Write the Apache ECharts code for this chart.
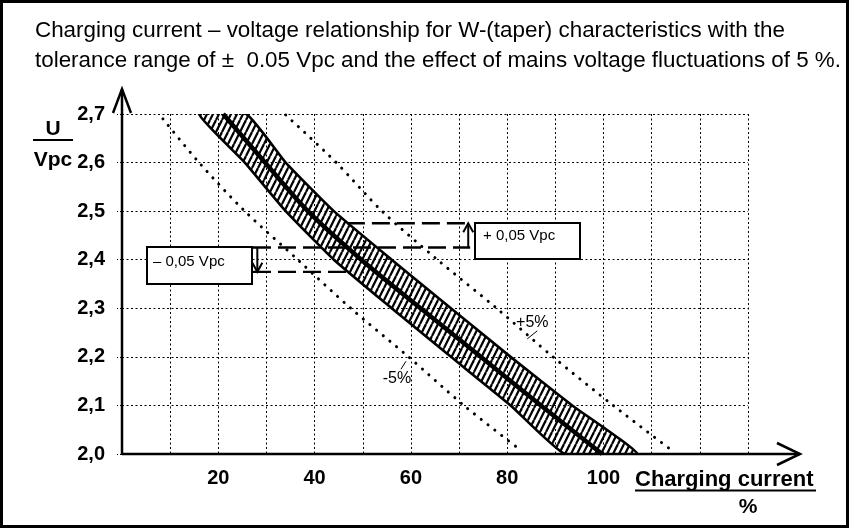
<!DOCTYPE html>
<html><head><meta charset="utf-8">
<script src="https://cdn.jsdelivr.net/npm/echarts@6/dist/echarts.min.js"></script>
<style>html,body{margin:0;padding:0;background:#fff}#c{width:849px;height:528px}</style>
</head><body><div id="c"></div>
<script>
// ---------- data ----------
const titleLines = [
  'Charging current \u2013 voltage relationship for W-(taper) characteristics with the',
  'tolerance range of \u00b1  0.05 Vpc and the effect of mains voltage fluctuations of 5 %.'
];
const xTickLabels = [20, 40, 60, 80, 100];
const yAxisNameTop = 'U';
const yAxisNameBottom = 'Vpc';
const xAxisName = 'Charging current';
const xAxisUnit = '%';

const voltages        = [2.7, 2.6, 2.5, 2.4, 2.3, 2.2, 2.1, 2.0];
const centerCurrent   = [21, 29.7, 38.6, 49.7, 62, 74.5, 87, 99.7];
const bandLeftCurrent = [16, 25.5, 34, 44, 56, 68.3, 80.7, 92];
const bandRightCurrent= [25.8, 34, 44, 56, 68.3, 80.7, 93.5, 107];

const minus5Voltages  = [2.69, 2.6, 2.5, 2.4, 2.3, 2.2, 2.1, 2.01];
const minus5Current   = [8.5, 16, 25.5, 36.5, 47.5, 59.5, 71, 82.5];
const plus5Voltages   = [2.698, 2.6, 2.5, 2.4, 2.3, 2.2, 2.1, 2.005];
const plus5Current    = [34, 44.5, 54, 65.5, 77.8, 89.5, 102, 114.5];

const tolMid = 2.425, tolUp = 2.475, tolLow = 2.375;
const tolMidRange = [27.2, 72.3];
const tolUpRange  = [46.7, 72.3];
const tolLowRange = [27.2, 48];
const minusArrowX = 28.1, plusArrowX = 71.9;
const minusLabel = '\u2013 0,05 Vpc';
const plusLabel  = '+ 0,05 Vpc';
const plus5Label = '+5%', minus5Label = '-5%';

// ---------- chart ----------
function hatch() {
  const c = document.createElement('canvas'); c.width = 6; c.height = 12;
  const g = c.getContext('2d'); g.strokeStyle = '#000'; g.lineWidth = 2.2;
  for (const dx of [-6, 0, 6]) { g.beginPath(); g.moveTo(dx, 12); g.lineTo(dx + 6, 0); g.stroke(); }
  return c;
}
const pattern = { image: hatch(), repeat: 'repeat' };
const zip = (xs, ys) => xs.map((x, i) => [x, ys[i]]);
const FONT = '"Liberation Sans", Arial, Helvetica, sans-serif';
const dotted = { color: '#000', width: 3, type: [0.1, 8.5], cap: 'round' };
const dashed = { color: '#000', width: 2.4, type: [18, 7] };

const chart = echarts.init(document.getElementById('c'), null, { renderer: 'canvas' });
chart.setOption({
  animation: false,
  backgroundColor: '#fff',
  grid: { left: 122, top: 114, width: 626, height: 340 },
  xAxis: {
    type: 'value', min: 0, max: 130, interval: 10,
    axisLine: { show: false }, axisTick: { show: false },
    axisLabel: { margin: 14, color: '#000', fontFamily: FONT, fontSize: 20, fontWeight: 'bold',
      formatter: v => xTickLabels.includes(v) ? String(v) : '' },
    splitLine: { show: true, lineStyle: { color: '#000', width: 1, type: [2, 2.5] } }
  },
  yAxis: {
    type: 'value', min: 2.0, max: 2.7, interval: 0.1,
    axisLine: { show: false },
    axisTick: { show: true, length: 5, lineStyle: { color: '#000', width: 1, type: [2, 2] } },
    axisLabel: { margin: 17, color: '#000', fontFamily: FONT, fontSize: 20, fontWeight: 'bold',
      formatter: v => v.toFixed(1).replace('.', ',') },
    splitLine: { show: true, lineStyle: { color: '#000', width: 1, type: [2, 2.5] } }
  },
  series: [
    { type: 'custom', clip: true, z: 3, data: [[0, 2]],
      renderItem: (params, api) => {
        const pts = [];
        voltages.forEach((v, i) => pts.push(api.coord([bandLeftCurrent[i], v])));
        for (let i = voltages.length - 1; i >= 0; i--) pts.push(api.coord([bandRightCurrent[i], voltages[i]]));
        return { type: 'polygon', shape: { points: pts, smooth: 0.15 },
          style: { fill: pattern, stroke: '#000', lineWidth: 2.6 } };
      } },
    { type: 'line', z: 4, data: zip(centerCurrent, voltages), smooth: 0.3, showSymbol: false,
      lineStyle: { color: '#000', width: 4.5 } },
    { type: 'line', z: 4, data: zip(minus5Current, minus5Voltages), smooth: 0.3, showSymbol: false, lineStyle: dotted },
    { type: 'line', z: 4, data: zip(plus5Current, plus5Voltages), smooth: 0.3, showSymbol: false, lineStyle: dotted },
    { type: 'line', z: 5, data: [[tolMidRange[0], tolMid], [tolMidRange[1], tolMid]], showSymbol: false, lineStyle: dashed },
    { type: 'line', z: 5, data: [[tolUpRange[0], tolUp], [tolUpRange[1], tolUp]], showSymbol: false, lineStyle: dashed },
    { type: 'line', z: 5, data: [[tolLowRange[0], tolLow], [tolLowRange[1], tolLow]], showSymbol: false, lineStyle: dashed },
    { type: 'custom', z: 6, clip: false, data: [[minusArrowX, tolMid, tolLow], [plusArrowX, tolMid, tolUp]],
      renderItem: (params, api) => {
        const a = api.coord([api.value(0), api.value(1)]);
        const b = api.coord([api.value(0), api.value(2)]);
        const dir = b[1] > a[1] ? 1 : -1;
        return { type: 'group', children: [
          { type: 'line', shape: { x1: a[0], y1: a[1], x2: b[0], y2: b[1] - dir * 2 }, style: { stroke: '#000', lineWidth: 2 } },
          { type: 'polyline', shape: { points: [[b[0] - 5, b[1] - dir * 9], [b[0], b[1]], [b[0] + 5, b[1] - dir * 9]] },
            style: { stroke: '#000', lineWidth: 2, fill: null } }
        ] };
      } }
  ]
});

function px(x, v) { return chart.convertToPixel({ gridIndex: 0 }, [x, v]); }
const o = px(0, 2.0), xEnd = px(130, 2.0), yTop = px(0, 2.7);
const p5 = px(85.2, 2.27), m5 = px(57.1, 2.156);
chart.setOption({
  graphic: [
    { type: 'rect', shape: { x: 1.5, y: 1.5, width: 846, height: 525 }, style: { fill: null, stroke: '#000', lineWidth: 3 }, z: 100 },
    { type: 'text', x: 35, y: 31, style: { text: titleLines[0], font: '22.4px ' + FONT, fill: '#000', verticalAlign: 'middle' } },
    { type: 'text', x: 35, y: 61, style: { text: titleLines[1], font: '22.4px ' + FONT, fill: '#000', verticalAlign: 'middle' } },
    // axes
    { type: 'line', z: 50, shape: { x1: o[0], y1: o[1], x2: xEnd[0] + 52, y2: o[1] }, style: { stroke: '#000', lineWidth: 2.5 } },
    { type: 'polyline', z: 50, shape: { points: [[xEnd[0] + 29, o[1] - 11], [xEnd[0] + 52, o[1]], [xEnd[0] + 29, o[1] + 11]] }, style: { stroke: '#000', lineWidth: 2.5, fill: null } },
    { type: 'line', z: 50, shape: { x1: o[0], y1: o[1], x2: o[0], y2: yTop[1] - 25 }, style: { stroke: '#000', lineWidth: 2.5 } },
    { type: 'polyline', z: 50, shape: { points: [[o[0] - 9, yTop[1] - 1], [o[0], yTop[1] - 25], [o[0] + 9, yTop[1] - 1]] }, style: { stroke: '#000', lineWidth: 2.5, fill: null } },
    // axis names
    { type: 'text', x: 53, y: 129, style: { text: yAxisNameTop, font: 'bold 21px ' + FONT, fill: '#000', align: 'center', verticalAlign: 'middle' } },
    { type: 'line', shape: { x1: 33, y1: 140, x2: 73, y2: 140 }, style: { stroke: '#000', lineWidth: 2 } },
    { type: 'text', x: 53, y: 160, style: { text: yAxisNameBottom, font: 'bold 21px ' + FONT, fill: '#000', align: 'center', verticalAlign: 'middle' } },
    { type: 'text', x: 635, y: 480, style: { text: xAxisName, font: 'bold 22px ' + FONT, fill: '#000', verticalAlign: 'middle' } },
    { type: 'line', shape: { x1: 635, y1: 490.5, x2: 816, y2: 490.5 }, style: { stroke: '#000', lineWidth: 2 } },
    { type: 'text', x: 748, y: 507, style: { text: xAxisUnit, font: 'bold 21px ' + FONT, fill: '#000', align: 'center', verticalAlign: 'middle' } },
    // annotation boxes
    { type: 'rect', z: 60, shape: { x: 147, y: 247, width: 105, height: 37 }, style: { fill: '#fff', stroke: '#000', lineWidth: 2 } },
    { type: 'text', z: 61, x: 153, y: 262, style: { text: minusLabel, font: '15px ' + FONT, fill: '#000', verticalAlign: 'middle' } },
    { type: 'rect', z: 60, shape: { x: 475, y: 223, width: 105, height: 36 }, style: { fill: '#fff', stroke: '#000', lineWidth: 2 } },
    { type: 'text', z: 61, x: 483, y: 236, style: { text: plusLabel, font: '15px ' + FONT, fill: '#000', verticalAlign: 'middle' } },
    // +5% / -5%
    { type: 'text', z: 61, x: p5[0], y: p5[1], style: { text: plus5Label, font: '16px ' + FONT, fill: '#000', align: 'center', verticalAlign: 'middle' } },
    { type: 'line', z: 61, shape: { x1: p5[0] + 5, y1: p5[1] + 8, x2: p5[0] - 5, y2: p5[1] + 16 }, style: { stroke: '#000', lineWidth: 1 } },
    { type: 'text', z: 61, x: m5[0], y: m5[1], style: { text: minus5Label, font: '16px ' + FONT, fill: '#000', align: 'center', verticalAlign: 'middle' } },
    { type: 'line', z: 61, shape: { x1: m5[0] + 4, y1: m5[1] - 9, x2: m5[0] + 9, y2: m5[1] - 17 }, style: { stroke: '#000', lineWidth: 1 } }
  ]
});
</script>
</body></html>
